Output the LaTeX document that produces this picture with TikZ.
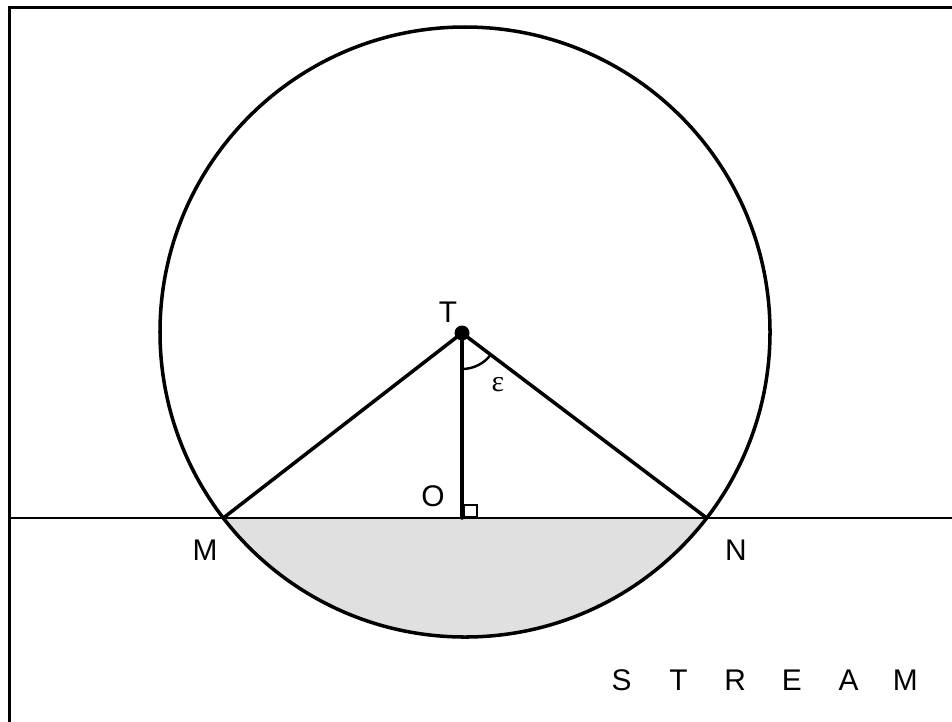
\documentclass[tikz,border=0pt]{standalone}
\usepackage{fontspec}
\setmainfont{Liberation Sans}
\newfontfamily\greekserif{Liberation Serif}
\usetikzlibrary{calc}
\definecolor{segfill}{HTML}{E0E0E0}
\tikzset{
  thick line/.style={line width=2pt, line cap=round, line join=round},
  thin line/.style={line width=0.85pt},
  lbl/.style={font=\fontsize{17}{19}\selectfont, inner sep=0pt},
}
\begin{document}
\begin{tikzpicture}[x=0.02cm,y=-0.02cm]
\useasboundingbox (0,0) rectangle (952,721);
% frame
\draw[line width=1.8pt] (9.5,730) -- (9.5,7.5) -- (960,7.5);
% key points
\coordinate (C) at (465,332);
\coordinate (T) at (462,333);
\coordinate (O) at (462,518);
\coordinate (M) at (223.3,518);
\coordinate (N) at (706.7,518);
\coordinate (L) at (9.5,518);
\coordinate (R) at (960,518);
% shaded segment
\begin{scope}
  \clip (0,518) rectangle (952,721);
  \fill[segfill] (C) circle[radius=305];
\end{scope}
% stream line
\draw[thin line] (L) -- (R);
% circle
\draw[thick line] (C) circle[radius=305];
% triangle lines
\draw[thick line] (M) -- (T) -- (N);
\draw[thick line] (T) -- (O);
% right angle box
\draw[line width=0.7pt] (464,505) rectangle (477,517);
% angle arc
\draw[line width=1.4pt] ($(T)+(90:36)$) arc[start angle=90, end angle=36.7, radius=36];
% dot
\fill (T) circle[radius=7.5];
% labels
\node[lbl] (tT) at (448,312) {T};
\node[lbl] (tO) at (433,496) {O};
\node[lbl] (tM) at (205,550) {M};
\node[lbl] (tN) at (736,550) {N};
\node[inner sep=0pt, font=\greekserif\fontsize{17}{19}\selectfont] (eps) at (498,385) {ε};
\node[lbl] (stream) at (763.5,680) {\makebox[32.3pt]{S}\makebox[32.3pt]{T}\makebox[32.3pt]{R}\makebox[32.3pt]{E}\makebox[32.3pt]{A}\makebox[32.3pt]{M}};
\end{tikzpicture}
\end{document}
